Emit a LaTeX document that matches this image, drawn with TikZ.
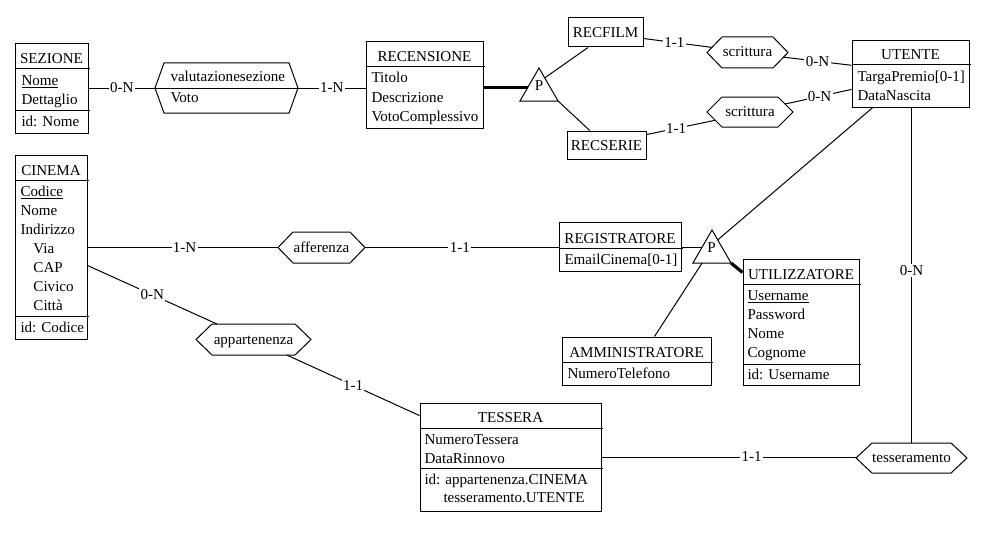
\documentclass[tikz,border=0pt]{standalone}
\usepackage{fontspec}
\setmainfont{Liberation Serif}
\usetikzlibrary{calc,fit,shapes.geometric}
\newcommand\hexa[2]{%
  \coordinate (#1-nw) at ($(#1.north west)+(#2,0)$);
  \coordinate (#1-ne) at ($(#1.north east)+(-#2,0)$);
  \coordinate (#1-se) at ($(#1.south east)+(-#2,0)$);
  \coordinate (#1-sw) at ($(#1.south west)+(#2,0)$);
  \draw (#1.west) -- (#1-nw) -- (#1-ne) -- (#1.east) -- (#1-se) -- (#1-sw) -- cycle;}
\begin{document}
\begin{tikzpicture}[x=0.75pt,y=-0.75pt,
  line width=0.75pt,
  every node/.style={font=\fontsize{11.3}{13}\selectfont, inner sep=0pt},
  box/.style={draw, inner sep=0pt},
  hexn/.style={inner sep=0pt, outer sep=0pt},
  txt/.style={anchor=base west},
  ttl/.style={anchor=base},
  card/.style={fill=white, inner sep=1pt},
  thickline/.style={line width=2.4pt},
  tri/.style={draw, regular polygon, regular polygon sides=3, minimum size=33pt, inner sep=0pt, outer sep=0pt}]
\fill[white] (0,0) rectangle (995,535);
\useasboundingbox (0,0) rectangle (995,535);

% ---------- SEZIONE
\node[box, fit={(15,44) (88,133)}] (sez) {};
\draw (15,69) -- (90,69);
\draw (15,110) -- (90,110);
\node[ttl] (sezT) at (51.5,64) {SEZIONE};
\node[txt] (sez1) at (21,85) {\underline{Nome}};
\node[txt] (sez2) at (21,104) {Dettaglio};
\node[txt] (sez3) at (21,126) {id: Nome};

% ---------- valutazionesezione
\node[hexn, fit={(155,63) (298,113)}] (vs) {};
\hexa{vs}{9}
\draw (vs.west) -- (vs.east);
\node[txt] (vsT) at (170,81) {valutazionesezione};
\node[txt] (vsA) at (170,103) {Voto};

% ---------- RECENSIONE
\node[box, fit={(366,42) (483,128)}] (rec) {};
\draw (366,67) -- (485,67);
\node[ttl] (recT) at (424.5,62) {RECENSIONE};
\node[txt] (rec1) at (371,83) {Titolo};
\node[txt] (rec2) at (371,102) {Descrizione};
\node[txt] (rec3) at (371,121) {VotoComplessivo};

% ---------- P1
\node[tri] (p1) at (539,90) {};
\node[ttl] (p1t) at (539,90) {P};

% ---------- RECFILM / RECSERIE
\node[box, fit={(568,18) (643,47)}] (recf) {};
\node[ttl] (recfT) at (605.5,37.5) {RECFILM};
\node[box, fit={(567,131) (646,159)}] (recs) {};
\node[ttl] (recsT) at (606.5,150) {RECSERIE};

% ---------- scrittura
\node[hexn, fit={(707,37) (788,68)}] (scr1) {};
\hexa{scr1}{15}
\node[ttl] (scr1T) at (747.5,57) {scrittura};
\node[hexn, fit={(707,97) (793,127)}] (scr2) {};
\hexa{scr2}{15}
\node[ttl] (scr2T) at (750,116.5) {scrittura};

% ---------- UTENTE
\node[box, fit={(852,41) (969,107)}] (ute) {};
\draw (852,65) -- (971,65);
\node[ttl] (uteT) at (910.5,60) {UTENTE};
\node[txt] (ute1) at (857,81) {TargaPremio[0-1]};
\node[txt] (ute2) at (857,100) {DataNascita};

% ---------- CINEMA
\node[box, fit={(15,155) (87,339)}] (cin) {};
\draw (15,180) -- (89,180);
\draw (15,316) -- (89,316);
\node[ttl] (cinT) at (51,175) {CINEMA};
\node[txt] (cin1) at (20,196) {\underline{Codice}};
\node[txt] (cin2) at (20,215) {Nome};
\node[txt] (cin3) at (20,234) {Indirizzo};
\node[txt] (cin4) at (33,253) {Via};
\node[txt] (cin5) at (33,272) {CAP};
\node[txt] (cin6) at (33,291) {Civico};
\node[txt] (cin7) at (33,310) {Città};
\node[txt] (cin8) at (20,332) {id: Codice};

% ---------- afferenza
\node[hexn, fit={(278,232) (365,263)}] (aff) {};
\hexa{aff}{15}
\node[ttl] (affT) at (321.5,252.5) {afferenza};

% ---------- REGISTRATORE
\node[box, fit={(559,222) (681,271)}] (reg) {};
\draw (559,248) -- (683,248);
\node[ttl] (regT) at (620,243) {REGISTRATORE};
\node[txt] (reg1) at (564,264) {EmailCinema[0-1]};

% ---------- P2
\node[tri] (p2) at (712,252) {};
\node[ttl] (p2t) at (711.5,252) {P};

% ---------- UTILIZZATORE
\node[box, fit={(743,259) (859,385)}] (util) {};
\draw (743,284) -- (861,284);
\draw (743,364) -- (861,364);
\node[ttl] (utilT) at (801,279) {UTILIZZATORE};
\node[txt] (util1) at (747,300) {\underline{Username}};
\node[txt] (util2) at (747,319) {Password};
\node[txt] (util3) at (747,338) {Nome};
\node[txt] (util4) at (747,357) {Cognome};
\node[txt] (util5) at (747,379) {id: Username};

% ---------- AMMINISTRATORE
\node[box, fit={(562,337) (711,385)}] (amm) {};
\draw (562,362) -- (713,362);
\node[ttl] (ammT) at (636.5,357) {AMMINISTRATORE};
\node[txt] (amm1) at (567,378) {NumeroTelefono};

% ---------- appartenenza
\node[hexn, fit={(196,324) (311,355)}] (app) {};
\hexa{app}{16}
\node[ttl] (appT) at (253.5,344) {appartenenza};

% ---------- TESSERA
\node[box, fit={(420,403) (601,511)}] (tessera) {};
\draw (420,428) -- (603,428);
\draw (420,468) -- (603,468);
\node[ttl] (tesseraT) at (510.5,422) {TESSERA};
\node[txt] (tessera1) at (424,444) {NumeroTessera};
\node[txt] (tessera2) at (424,463) {DataRinnovo};
\node[txt] (tessera3) at (424,484) {id: appartenenza.CINEMA};
\node[txt] (tessera4) at (443,502) {tesseramento.UTENTE};

% ---------- tesseramento
\node[hexn, fit={(856,443) (967,473)}] (tes) {};
\hexa{tes}{16}
\node[ttl] (tesT) at (911.5,462.5) {tesseramento};

% ================= connectors
\draw (sez.east |- vs.west) -- node[card] {0-N} (vs.west);
\draw (vs.east) -- node[card] {1-N} (rec.west |- vs.east);

\coordinate (p1w) at ($(p1.corner 1)!0.58!(p1.corner 2)$);
\draw[thickline] (p1w -| rec.east) -- (p1w);
\draw ($(p1.corner 1)!0.3!(p1.corner 3)$) -- ($(recf.south west)!0.27!(recf.south east)$);
\draw (p1.corner 3) -- ($(recs.north west)!0.29!(recs.north east)$);

\draw ($(recf.north east)!0.7!(recf.south east)$) -- node[card, pos=0.45] {1-1} ($(scr1.west)!0.33!(scr1-nw)$);
\draw ($(scr1.east)!0.3!(scr1-se)$) -- node[card, pos=0.5] {0-N} ($(ute.north west)!0.37!(ute.south west)$);
\draw ($(recs.north east)!0.14!(recs.south east)$) -- node[card, pos=0.43] {1-1} ($(scr2.west)!0.55!(scr2-sw)$);
\draw ($(scr2-ne)!0.47!(scr2.east)$) -- node[card, pos=0.52] {0-N} ($(ute.north west)!0.73!(ute.south west)$);

\draw ($(ute.south west)!0.18!(ute.south east)$) -- ($(p2.corner 1)!0.3!(p2.corner 3)$);
\draw (tes.north |- ute.south) -- node[card, pos=0.487] {0-N} (tes.north);

\draw (cin.east |- aff.west) -- node[card, pos=0.51] {1-N} (aff.west);
\draw (aff.east) -- node[card, pos=0.49] {1-1} (reg.west |- aff.east);
\coordinate (p2w) at ($(p2.corner 1)!0.53!(p2.corner 2)$);
\draw (reg.east |- p2w) -- (p2w);
\draw[thickline] (p2.corner 3) -- ($(util.north west)!0.11!(util.south west)$);
\draw ($(p2.corner 2)!0.24!(p2.corner 3)$) -- ($(amm.north west)!0.62!(amm.north east)$);

\draw ($(cin.north east)!0.6!(cin.south east)$) -- node[card] {0-N} ($(app-nw)!0.06!(app-ne)$);
\draw ($(app-sw)!0.9!(app-se)$) -- node[card] {1-1} ($(tessera.north west)!0.12!(tessera.south west)$);
\draw (tessera.east) -- node[card, pos=0.59] {1-1} (tes.west |- tessera.east);
\end{tikzpicture}
\end{document}
